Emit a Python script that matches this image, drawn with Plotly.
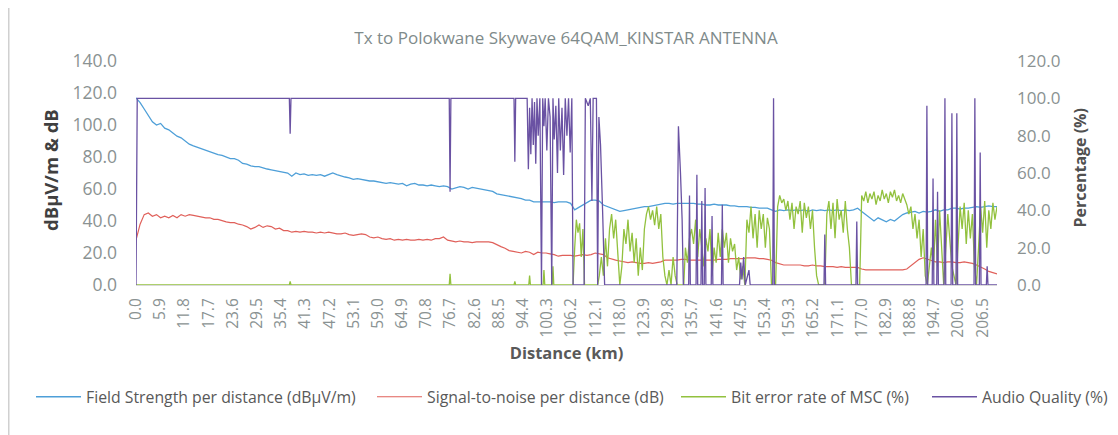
import plotly.graph_objects as go

# ---------------- data ----------------
TITLE = "Tx to Polokwane Skywave 64QAM_KINSTAR ANTENNA"

X_TICK_LABELS = ["0.0", "5.9", "11.8", "17.7", "23.6", "29.5", "35.4", "41.3", "47.2",
                 "53.1", "59.0", "64.9", "70.8", "76.7", "82.6", "88.5", "94.4", "100.3",
                 "106.2", "112.1", "118.0", "123.9", "129.8", "135.7", "141.6", "147.5",
                 "153.4", "159.3", "165.2", "171.1", "177.0", "182.9", "188.8", "194.7",
                 "200.6", "206.5"]

# Field strength and SNR sampled every 1 km (0 .. 210 km)
FS_SNR_KM = list(range(0, 211))

FIELD_STRENGTH = [117, 114, 110, 106, 102, 100, 101, 98, 97, 95,
                  93, 92, 90, 88, 87, 86, 85, 84, 83, 82,
                  81.5, 81, 80, 79, 79, 78, 76, 75.5, 74.5, 74,
                  74, 73, 72.5, 72, 71.5, 71, 70.5, 70, 68, 70,
                  69, 69.5, 68.5, 69, 68.5, 69, 68, 69, 70, 69,
                  68, 67.5, 67, 66, 66.5, 66, 65.5, 65, 65, 64.5,
                  64, 63.5, 64, 63.5, 63, 63.5, 62, 63, 63.5, 62.5,
                  62.5, 62, 62.5, 62, 61.5, 62, 61.5, 60, 61, 61.5,
                  61, 60, 61, 60.5, 60, 59.5, 59, 58.5, 57, 56.5,
                  56, 55.5, 55, 54.5, 54, 53, 53, 52, 52, 52,
                  52, 52, 51.5, 52, 52, 52, 51, 47, 48.5, 50,
                  52, 53, 53, 52.5, 50, 49, 48, 47, 46, 46.5,
                  47, 47.5, 48, 48.5, 49, 49, 49.5, 50, 50.5, 51,
                  51, 50.5, 51, 51, 51, 51, 51, 50.5, 50.5, 50,
                  50, 50.5, 50, 50, 50, 49.5, 49.5, 49, 49, 49,
                  48.5, 48.5, 48, 48, 48, 47, 46, 47, 46.5, 47,
                  46.5, 47, 46.5, 47, 46, 47, 46.5, 47, 46.5, 47,
                  46.5, 47, 46.5, 47, 46.5, 47, 48, 46, 44, 42,
                  40, 42, 41, 39.5, 41, 40, 42, 44, 45, 45.5,
                  46, 45, 46, 45.5, 46, 47, 46, 47, 47, 48,
                  48, 47.5, 48, 48, 48.5, 49, 48.5, 49, 49.5, 49,
                  49]

SNR = [28, 38, 44, 45, 43, 44, 42, 43, 42, 43.5,
       42, 44, 43, 44, 43.5, 43, 42.5, 42, 42, 41,
       41, 40, 39.5, 39, 39, 38, 37.5, 36.5, 35, 36,
       37.5, 36, 37, 36.5, 35, 35.5, 34, 34, 33, 33.5,
       33, 33.5, 33, 33, 32.5, 33, 32.5, 33, 32.5, 32,
       32, 32.5, 31.5, 31, 31.5, 32, 31.5, 30, 29.5, 30,
       29, 28.5, 29, 28, 28.5, 28, 28.5, 28, 28, 28.5,
       28, 28.5, 28, 29, 29, 30, 28, 27.5, 27, 27.5,
       27, 27, 26.5, 27, 27, 27, 27, 26.5, 25, 24,
       23, 21.5, 21, 20.5, 20, 21, 20.5, 19, 20.5, 20,
       20, 19.5, 19, 18, 18.5, 18.5, 18.5, 18, 18.5, 19,
       18.5, 19, 20, 19.5, 19, 17, 16, 15.5, 15, 14.5,
       14, 14.5, 14, 13.5, 13.5, 14, 13.5, 14, 14.5, 15.5,
       15.5, 15.5, 15.5, 16, 16, 15.5, 15.5, 15.5, 15.5, 15.5,
       15.5, 15.5, 16, 16, 16, 16.5, 16.5, 16.5, 16.5, 17,
       17, 17, 16.5, 16.5, 16, 15.5, 14, 13, 12.5, 12.5,
       12.5, 12.5, 12.5, 12, 12, 12.5, 12, 12, 11.5, 11.5,
       11.5, 11, 11.5, 11, 11, 11, 11, 10, 9.5, 9.5,
       9.5, 9.5, 9.5, 9.5, 9.5, 9.5, 9.5, 9.5, 10, 12,
       14, 16, 17, 16, 15, 14.5, 14.5, 14, 14.5, 14.5,
       14, 14, 14.5, 14, 13.5, 12.5, 11.5, 10, 8.5, 7.5,
       7]

BER_KM = [0, 37.4, 37.6, 37.8, 76.4, 76.6, 76.8, 92.2, 92.4, 92.6, 95.8, 96.0, 96.2,
          99.3, 99.5, 99.7, 101.5, 101.7, 101.9, 106.6, 107.0, 107.4, 107.8, 108.2,
          108.6, 109.0, 109.4, 112.6, 113.0, 113.5, 114.0, 114.5, 115.0, 115.5, 116.0,
          116.5, 117.0, 117.5, 118.0, 118.5, 119.0, 119.5, 120.0, 120.5, 121.0, 121.5,
          122.0, 122.5, 123.0, 123.5, 124.0, 124.5, 125.0, 125.5, 126.0, 126.5, 127.0,
          127.5, 128.0, 128.5, 129.0, 129.5, 130.0, 130.5, 131.0, 131.5, 132.0, 133.6,
          134.0, 134.5, 135.0, 135.5, 136.0, 136.5, 137.0, 137.5, 138.0, 138.5, 139.0,
          139.5, 140.0, 140.5, 141.0, 141.5, 142.0, 142.5, 143.0, 143.5, 144.0, 144.5,
          145.0, 145.5, 146.0, 146.5, 147.0, 147.5, 148.0, 148.5, 149.0, 149.5, 150.0,
          150.5, 151.0, 151.5, 152.0, 152.5, 153.0, 153.5, 154.0, 154.5, 155.0, 156.0,
          156.5, 157.0, 157.5, 158.0, 158.5, 159.0, 159.5, 160.0, 160.5, 161.0, 161.5,
          162.0, 162.5, 163.0, 163.5, 164.0, 164.5, 165.0, 165.5, 166.0, 166.5, 168.0,
          168.5, 169.0, 169.5, 170.0, 170.5, 171.0, 171.5, 172.0, 172.5, 173.0, 173.5,
          174.0, 174.5, 176.5, 177.0, 177.5, 178.0, 178.5, 179.0, 179.5, 180.0, 180.5,
          181.0, 181.5, 182.0, 182.5, 183.0, 183.5, 184.0, 184.5, 185.0, 185.5, 186.0,
          186.5, 187.0, 187.5, 188.0, 188.5, 189.0, 189.5, 190.0, 190.5, 191.0, 191.5,
          192.0, 192.5, 193.0, 194.0, 194.5, 195.0, 195.5, 196.0, 196.5, 197.0, 198.0,
          198.5, 199.0, 200.0, 201.0, 201.5, 202.0, 202.5, 203.0, 203.5, 204.0, 204.5,
          205.0, 205.5, 206.0, 206.5, 207.0, 207.5, 208.0, 208.5, 209.0, 209.5, 210.0]
BER = [0, 0, 2, 0, 0, 6, 0, 0, 2, 0, 0, 5, 0,
       0, 8, 0, 0, 10, 0, 0, 20, 35, 28, 33,
       15, 30, 0, 0, 5, 15, 5, 25, 10, 30, 38,
       25, 35, 20, 0, 10, 30, 22, 35, 18, 28, 12,
       25, 5, 20, 8, 30, 38, 42, 35, 40, 32, 42,
       30, 38, 15, 5, 0, 8, 0, 15, 5, 0, 0,
       20, 12, 25, 30, 22, 35, 15, 30, 20, 10, 25,
       18, 30, 5, 20, 12, 28, 15, 30, 20, 28, 12,
       25, 18, 22, 8, 15, 3, 10, 0, 35, 28, 42,
       25, 38, 20, 40, 30, 38, 20, 36, 30, 0, 0,
       42, 48, 44, 46, 40, 45, 35, 44, 30, 42, 38,
       45, 28, 44, 36, 42, 30, 40, 20, 5, 0, 0,
       38, 45, 30, 44, 25, 46, 35, 40, 28, 45, 30,
       20, 0, 0, 48, 45, 50, 44, 49, 46, 50, 43,
       48, 45, 51, 46, 49, 44, 50, 47, 51, 45, 48,
       44, 49, 46, 43, 38, 42, 30, 38, 25, 35, 15,
       30, 5, 0, 20, 8, 35, 10, 40, 20, 0, 38,
       25, 10, 0, 42, 30, 44, 22, 40, 25, 38, 10,
       0, 20, 42, 28, 45, 20, 40, 30, 44, 35, 42]

AUDIO_KM = [0, 0.3, 37.4, 37.6, 37.8, 76.4, 76.6, 76.8, 92.2, 92.4, 92.6, 95.4, 95.7,
            96.0, 96.3, 96.6, 96.9, 97.2, 97.5, 97.8, 98.1, 98.5, 98.9, 99.2, 99.5,
            99.8, 100.2, 100.6, 101.0, 101.4, 101.7, 102.0, 102.4, 102.8, 103.1, 103.5,
            103.9, 104.3, 104.7, 105.1, 105.5, 105.9, 106.3, 106.6, 109.3, 109.6, 110.3,
            110.8, 111.2, 111.5, 112.3, 112.6, 112.9, 113.3, 113.8, 114.3, 131.9, 132.3,
            132.8, 133.2, 133.5, 134.8, 135.0, 135.2, 136.6, 136.8, 137.0, 137.8, 138.0,
            138.2, 138.6, 138.8, 139.0, 140.3, 140.5, 140.7, 142.8, 143.0, 143.2, 147.2,
            147.5, 147.8, 148.2, 148.6, 149.5, 149.8, 155.3, 155.5, 155.7, 167.8, 168.0,
            168.2, 175.6, 175.8, 176.0, 192.7, 192.9, 193.1, 194.2, 194.4, 194.6, 195.3,
            195.5, 195.7, 197.1, 197.3, 197.5, 198.8, 199.0, 199.2, 200.0, 200.2, 200.4,
            204.4, 204.6, 204.8, 205.7, 205.9, 206.1, 207.4, 207.6, 207.8, 210.0]
AUDIO = [0, 100, 100, 81, 100, 100, 50, 100, 100, 66, 100, 100, 62,
         95, 70, 100, 75, 98, 65, 100, 80, 100, 0, 100, 85,
         100, 72, 100, 90, 0, 100, 78, 96, 60, 100, 72,
         95, 59, 100, 80, 100, 71, 100, 0, 0, 100, 96,
         100, 45, 100, 100, 0, 90, 75, 40, 0, 0, 85,
         60, 35, 0, 0, 48, 0, 0, 59, 0, 0, 45,
         0, 0, 52, 0, 0, 37, 0, 0, 43, 0, 0,
         12, 3, 15, 0, 8, 0, 0, 100, 0, 0, 27,
         0, 0, 34, 0, 0, 96, 0, 0, 57, 0, 0,
         50, 0, 0, 100, 0, 0, 92, 0, 0, 92, 0,
         0, 100, 0, 0, 71, 0, 0, 10, 0, 0]

SERIES_NAMES = ["Field Strength per distance (dBµV/m)", "Signal-to-noise per distance (dB)",
                "Bit error rate of MSC (%)", "Audio Quality (%)"]

# ---------------- figure ----------------
FONT = "Open Sans"
TICK_COLOR = "#8A9292"
W, H = 1110, 427          # page body has an 8 px margin in the browser
ML, MR, MT, MB = 128, 121, 53, 150
PW, PH = W - ML - MR, H - MT - MB

fig = go.Figure()
fig.add_trace(go.Scatter(x=FS_SNR_KM, y=FIELD_STRENGTH, name=SERIES_NAMES[0], mode="lines",
                         line=dict(color="#4E9FD8", width=1.3), legend="legend"))
fig.add_trace(go.Scatter(x=FS_SNR_KM, y=SNR, name=SERIES_NAMES[1], mode="lines",
                         line=dict(color="#E0605A", width=1.2), legend="legend2"))
fig.add_trace(go.Scatter(x=BER_KM, y=BER, name=SERIES_NAMES[2], mode="lines", yaxis="y2",
                         line=dict(color="#92C13E", width=1.3), legend="legend3"))
fig.add_trace(go.Scatter(x=AUDIO_KM, y=AUDIO, name=SERIES_NAMES[3], mode="lines", yaxis="y2",
                         line=dict(color="#6A52A3", width=1.3), legend="legend4"))


def legend_box(left_px):
    return dict(orientation="h", xref="container", x=left_px / W, xanchor="left",
                y=-0.5, yanchor="middle", itemwidth=45,
                font=dict(family=FONT, size=15.8, color="#595959"),
                bgcolor="rgba(0,0,0,0)")


fig.update_layout(
    width=W, height=H,
    margin=dict(l=ML, r=MR, t=MT, b=MB, autoexpand=False),
    paper_bgcolor="white", plot_bgcolor="white",
    font=dict(family=FONT, color="#595959"),
    title=dict(text=TITLE, x=(566 - 8) / W, xanchor="center", y=1 - 30 / H, yanchor="middle",
               font=dict(family=FONT, size=17, color="#7F8B8B")),
    showlegend=True,
    legend=legend_box(23), legend2=legend_box(364), legend3=legend_box(668),
    legend4=legend_box(919),
    xaxis=dict(range=[0, 210], tickmode="array", automargin=False,
               tickvals=[float(s) for s in X_TICK_LABELS], ticktext=X_TICK_LABELS,
               tickangle=-90, tickfont=dict(family=FONT, size=15.5, color=TICK_COLOR),
               showgrid=False, zeroline=False, showline=True, linecolor="#D9D9D9",
               ticks="", ticklabelstandoff=6,
               title=dict(text="<b>Distance (km)</b>", standoff=10,
                          font=dict(family=FONT, size=16.5, color="#595959"))),
    yaxis=dict(range=[0, 140], tickmode="array", tickvals=[0, 20, 40, 60, 80, 100, 120, 140],
               automargin=False,
               tickformat=".1f", tickfont=dict(family=FONT, size=17.5, color=TICK_COLOR),
               showgrid=False, zeroline=False, showline=False, ticks="", ticklabelstandoff=18),
    yaxis2=dict(range=[0, 120], overlaying="y", side="right", tickmode="array",
                automargin=False,
                tickvals=[0, 20, 40, 60, 80, 100, 120], tickformat=".1f",
                tickfont=dict(family=FONT, size=17, color=TICK_COLOR),
                showgrid=False, zeroline=False, showline=False, ticks="", ticklabelstandoff=19),
    annotations=[
        dict(text="<b>dBµV/m &amp; dB</b>", xref="paper", yref="paper",
             x=(50 - 8 - ML) / PW, y=(277 - (170 - 8)) / PH, textangle=-90, showarrow=False,
             xanchor="center", yanchor="middle",
             font=dict(family=FONT, size=18.5, color="#404040")),
        dict(text="<b>Percentage (%)</b>", xref="paper", yref="paper",
             x=(1080 - 8 - ML) / PW, y=0.52, textangle=-90, showarrow=False,
             xanchor="center", yanchor="middle",
             font=dict(family=FONT, size=16, color="#505050")),
    ],
    shapes=[dict(type="line", xref="paper", yref="paper", x0=(0.75 - ML) / PW,
                 x1=(0.75 - ML) / PW, y0=-MB / PH, y1=1 + MT / PH,
                 line=dict(color="#D0D0D0", width=1.5))],
)

fig.write_html("out.html")
